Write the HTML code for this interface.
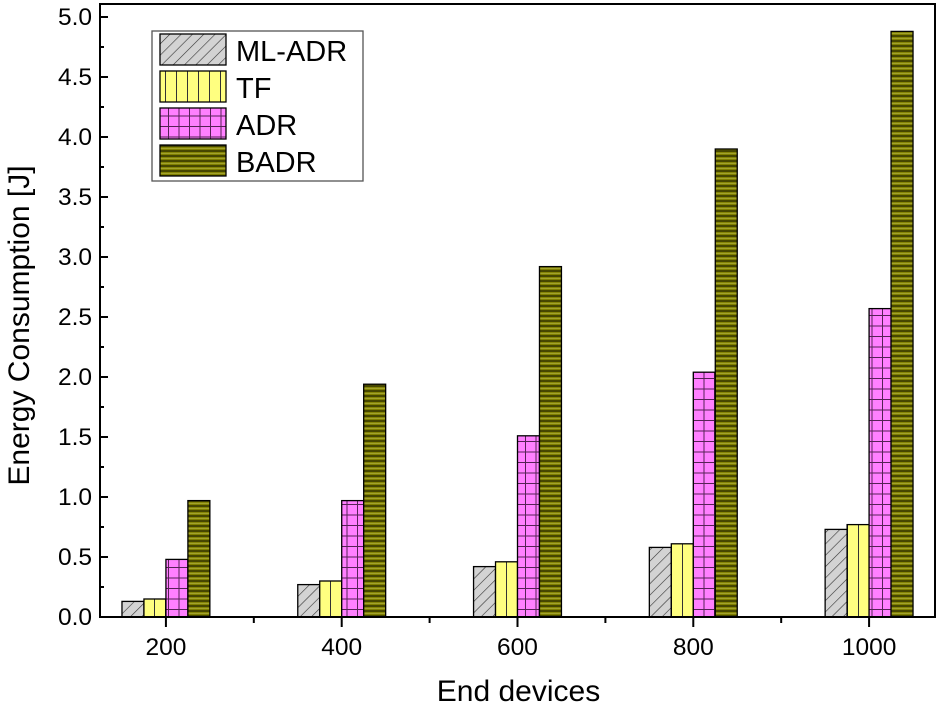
<!DOCTYPE html>
<html><head><meta charset="utf-8"><style>
body{margin:0;background:#fff}
svg{display:block;font-family:"Liberation Sans",Arial,sans-serif}
</style></head><body>
<svg id="chart" width="941" height="708">
<defs>
<pattern id="pDiag" patternUnits="userSpaceOnUse" width="8" height="8" patternTransform="rotate(45)">
<rect width="8" height="8" fill="#d3d3d3"/><line x1="0" y1="0" x2="0" y2="8" stroke="#333" stroke-width="1.2"/></pattern>
<pattern id="pVert" patternUnits="userSpaceOnUse" width="11" height="10">
<rect width="11" height="10" fill="#ffff80"/><line x1="0.5" y1="0" x2="0.5" y2="10" stroke="#333" stroke-width="1"/></pattern>
<pattern id="pGrid" patternUnits="userSpaceOnUse" width="10.5" height="10.5">
<rect width="10.5" height="10.5" fill="#ff80ff"/><path d="M0.5 0V10.5M0 0.5H10.5" stroke="#552255" stroke-width="1"/></pattern>
<pattern id="pHor" patternUnits="userSpaceOnUse" width="10" height="5">
<rect width="10" height="5" fill="#808000"/><line x1="0" y1="1" x2="10" y2="1" stroke="#2e2e00" stroke-width="1.4"/><line x1="0" y1="3.3" x2="10" y2="3.3" stroke="#b0b040" stroke-width="0.8"/></pattern>
</defs>
<g id="bars"></g>
<g id="axes"></g>
</svg>
<script>
const categories=[200,400,600,800,1000];
const seriesNames=["ML-ADR","TF","ADR","BADR"];
const mlAdr=[0.13,0.27,0.42,0.58,0.73];
const tf=[0.15,0.30,0.46,0.61,0.77];
const adr=[0.48,0.97,1.51,2.04,2.57];
const badr=[0.97,1.94,2.92,3.90,4.88];
const yTicks=["0.0","0.5","1.0","1.5","2.0","2.5","3.0","3.5","4.0","4.5","5.0"];
const xTicks=["200","400","600","800","1000"];

const L=100,R=935,T=4,B=617;
const xMin=125,xMax=1075,yMax=(B-T)/120;
const xs=v=>L+(v-xMin)/(xMax-xMin)*(R-L);
const ys=v=>B-v/yMax*(B-T);
const NS="http://www.w3.org/2000/svg";
function mk(tag,attrs,parent,text){const e=document.createElementNS(NS,tag);for(const k in attrs)e.setAttribute(k,attrs[k]);if(text!==undefined)e.textContent=text;parent.appendChild(e);return e;}
const fills=["url(#pDiag)","url(#pVert)","url(#pGrid)","url(#pHor)"];
const series=[mlAdr,tf,adr,badr];
const barsG=document.getElementById('bars'),axG=document.getElementById('axes');
const bw=xs(125)-xs(100);
categories.forEach((c,i)=>{
 series.forEach((s,j)=>{
  const x=xs(c)-2*bw+j*bw;
  const r=mk('rect',{x:x,y:ys(s[i]),width:bw,height:ys(0)-ys(s[i]),fill:fills[j],stroke:'#000','stroke-width':1.3},barsG);
  
  
 });
});
const frame=mk('rect',{x:L,y:T,width:R-L,height:B-T,fill:'none',stroke:'#000','stroke-width':2},axG);


yTicks.forEach((t,i)=>{
 const v=parseFloat(t),y=ys(v);
 mk('line',{x1:L,x2:L+8,y1:y,y2:y,stroke:'#000','stroke-width':2},axG);
 if(i<yTicks.length-1){mk('line',{x1:L,x2:L+4,y1:ys(v+0.25),y2:ys(v+0.25),stroke:'#000','stroke-width':2},axG);}
 const tx=mk('text',{x:L-8,y:y+8,'text-anchor':'end','font-size':24.5},axG,t);
 
 
});
xTicks.forEach((t,i)=>{
 const x=xs(parseFloat(t));
 mk('line',{x1:x,x2:x,y1:B,y2:B+10,stroke:'#000','stroke-width':2},axG);
 const mx=xs(parseFloat(t)+100);
 if(i<xTicks.length-1) mk('line',{x1:mx,x2:mx,y1:B,y2:B+6,stroke:'#000','stroke-width':2},axG);
 const tx=mk('text',{x:x,y:B+38,'text-anchor':'middle','font-size':24.5},axG,t);
 
 
});
const xt=mk('text',{x:(L+R)/2+1,y:701,'text-anchor':'middle','font-size':30},axG,'End devices');


const yt=mk('text',{x:0,y:0,'text-anchor':'middle','font-size':30,transform:'translate(29,'+((T+B)/2+15)+') rotate(-90)'},axG,'Energy Consumption [J]');


const lg=mk('g',{},axG);


mk('rect',{x:152,y:31,width:211,height:150,fill:'#fff',stroke:'#555','stroke-width':1.3},lg);
seriesNames.forEach((n,j)=>{
 const y=34+j*37;
 const sw=mk('rect',{x:160,y:y,width:66,height:31,fill:fills[j],stroke:'#000','stroke-width':1.3},lg);
 
 
 const tx=mk('text',{x:236,y:y+27,'font-size':29},lg,n);
 
 
});
</script>
</body></html>
